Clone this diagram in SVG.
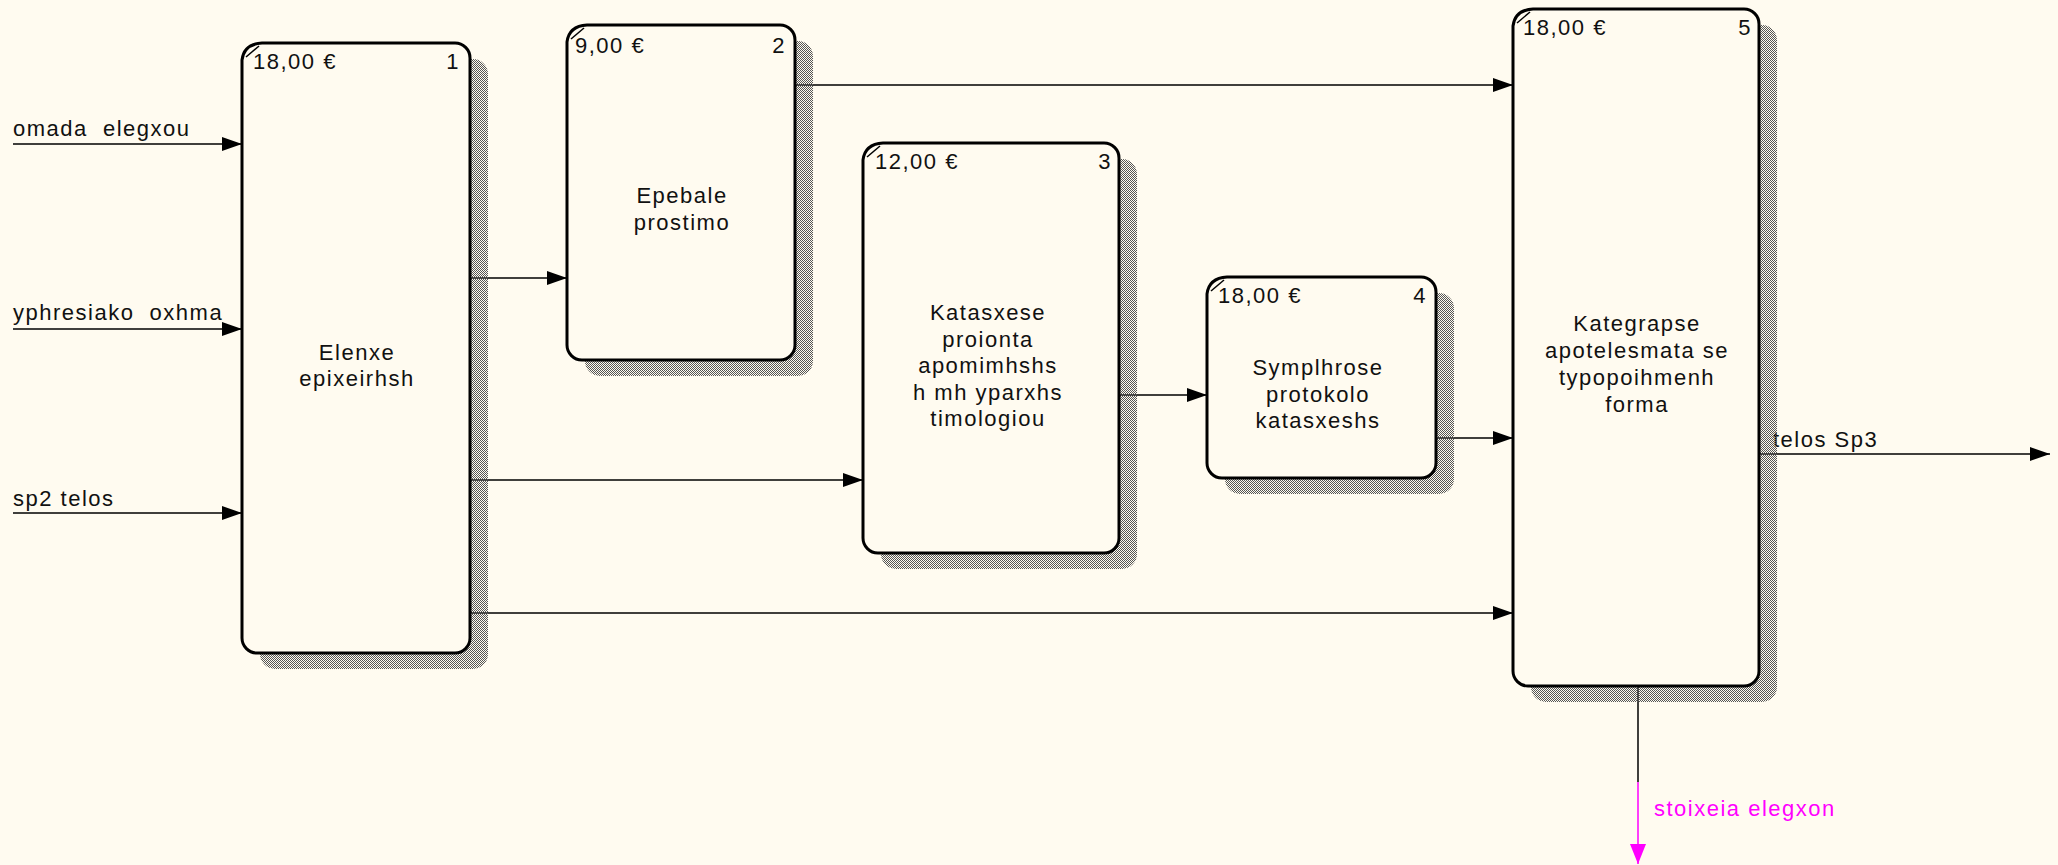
<svg xmlns="http://www.w3.org/2000/svg" width="2058" height="865" viewBox="0 0 2058 865">
<style>
text{font-family:"Liberation Sans",Arial,sans-serif;font-size:22px;letter-spacing:1.5px;fill:#111}
.t{text-anchor:middle}
.n{text-anchor:end}
.box{fill:#FFFBF0;stroke:#000;stroke-width:3}
.sh{fill:url(#hatch)}
.mk{fill:none;stroke:#000;stroke-width:1.5}
.c{fill:none;stroke:#000;stroke-width:1.5}
.m{fill:none;stroke:#FF00FF;stroke-width:1.5}
</style>
<defs>
<pattern id="hatch" width="2" height="2" patternUnits="userSpaceOnUse">
<rect x="0" y="0" width="1" height="1" fill="#555"/>
<rect x="1" y="1" width="1" height="1" fill="#555"/>
</pattern>
<marker id="ar" markerUnits="userSpaceOnUse" markerWidth="20" markerHeight="14" refX="20" refY="7" orient="auto">
<path d="M0,0 L20,7 L0,14 Z" fill="#000"/>
</marker>
<marker id="arm" markerUnits="userSpaceOnUse" markerWidth="20" markerHeight="16" refX="20" refY="8" orient="auto">
<path d="M0,0 L20,8 L0,16 Z" fill="#FF00FF"/>
</marker>
</defs>
<rect width="2058" height="865" fill="#FFFBF0"/>

<g id="connectors">
<line class="c" x1="13" y1="144" x2="242" y2="144" marker-end="url(#ar)"/>
<line class="c" x1="13" y1="329" x2="242" y2="329" marker-end="url(#ar)"/>
<line class="c" x1="13" y1="513" x2="242" y2="513" marker-end="url(#ar)"/>
<line class="c" x1="470" y1="278" x2="567" y2="278" marker-end="url(#ar)"/>
<line class="c" x1="470" y1="480" x2="863" y2="480" marker-end="url(#ar)"/>
<line class="c" x1="470" y1="613" x2="1513" y2="613" marker-end="url(#ar)"/>
<line class="c" x1="795" y1="85" x2="1513" y2="85" marker-end="url(#ar)"/>
<line class="c" x1="1119" y1="395" x2="1207" y2="395" marker-end="url(#ar)"/>
<line class="c" x1="1436" y1="438" x2="1513" y2="438" marker-end="url(#ar)"/>
<line class="c" x1="1759" y1="454" x2="2050" y2="454" marker-end="url(#ar)"/>
<line class="c" x1="1638" y1="686" x2="1638" y2="782"/>
<line class="m" x1="1638" y1="782" x2="1638" y2="864" marker-end="url(#arm)"/>
<text x="13" y="136" xml:space="preserve">omada  elegxou</text>
<text x="13" y="320" xml:space="preserve">yphresiako  oxhma</text>
<text x="13" y="506">sp2 telos</text>
<text x="1773" y="447">telos Sp3</text>
<text x="1654" y="816" style="fill:#FF00FF">stoixeia elegxon</text>
</g>

<g id="node1">
<path class="sh" d="M260,76 L260,654 A15,15 0 0 0 275,669 L473,669 A15,15 0 0 0 488,654 L488,74 A15,15 0 0 0 473,59 L280,59 Z"/>
<path class="box" d="M242,60 L242,638 A15,15 0 0 0 257,653 L455,653 A15,15 0 0 0 470,638 L470,58 A15,15 0 0 0 455,43 L262,43 Q244,44 242,60 Z"/>
<path class="mk" d="M246,57 L259,46"/>
<text x="253" y="69">18,00 €</text>
<text class="n" x="460" y="69">1</text>
<text class="t" x="357" y="360">Elenxe</text>
<text class="t" x="357" y="386">epixeirhsh</text>
</g>

<g id="node2">
<path class="sh" d="M585,58 L585,361 A15,15 0 0 0 600,376 L798,376 A15,15 0 0 0 813,361 L813,56 A15,15 0 0 0 798,41 L605,41 Z"/>
<path class="box" d="M567,42 L567,345 A15,15 0 0 0 582,360 L780,360 A15,15 0 0 0 795,345 L795,40 A15,15 0 0 0 780,25 L587,25 Q569,26 567,42 Z"/>
<path class="mk" d="M571,39 L584,28"/>
<text x="575" y="53">9,00 €</text>
<text class="n" x="786" y="53">2</text>
<text class="t" x="682" y="203">Epebale</text>
<text class="t" x="682" y="230">prostimo</text>
</g>

<g id="node3">
<path class="sh" d="M881,176 L881,554 A15,15 0 0 0 896,569 L1122,569 A15,15 0 0 0 1137,554 L1137,174 A15,15 0 0 0 1122,159 L901,159 Z"/>
<path class="box" d="M863,160 L863,538 A15,15 0 0 0 878,553 L1104,553 A15,15 0 0 0 1119,538 L1119,158 A15,15 0 0 0 1104,143 L883,143 Q865,144 863,160 Z"/>
<path class="mk" d="M867,157 L880,146"/>
<text x="875" y="169">12,00 €</text>
<text class="n" x="1112" y="169">3</text>
<text class="t" x="988" y="320">Katasxese</text>
<text class="t" x="988" y="347">proionta</text>
<text class="t" x="988" y="373">apomimhshs</text>
<text class="t" x="988" y="400">h mh yparxhs</text>
<text class="t" x="988" y="426">timologiou</text>
</g>

<g id="node4">
<path class="sh" d="M1225,310 L1225,479 A15,15 0 0 0 1240,494 L1439,494 A15,15 0 0 0 1454,479 L1454,308 A15,15 0 0 0 1439,293 L1245,293 Z"/>
<path class="box" d="M1207,294 L1207,463 A15,15 0 0 0 1222,478 L1421,478 A15,15 0 0 0 1436,463 L1436,292 A15,15 0 0 0 1421,277 L1227,277 Q1209,278 1207,294 Z"/>
<path class="mk" d="M1211,291 L1224,280"/>
<text x="1218" y="303">18,00 €</text>
<text class="n" x="1427" y="303">4</text>
<text class="t" x="1318" y="375">Symplhrose</text>
<text class="t" x="1318" y="402">protokolo</text>
<text class="t" x="1318" y="428">katasxeshs</text>
</g>

<g id="node5">
<path class="sh" d="M1531,42 L1531,687 A15,15 0 0 0 1546,702 L1762,702 A15,15 0 0 0 1777,687 L1777,40 A15,15 0 0 0 1762,25 L1551,25 Z"/>
<path class="box" d="M1513,26 L1513,671 A15,15 0 0 0 1528,686 L1744,686 A15,15 0 0 0 1759,671 L1759,24 A15,15 0 0 0 1744,9 L1533,9 Q1515,10 1513,26 Z"/>
<path class="mk" d="M1517,23 L1530,12"/>
<text x="1523" y="35">18,00 €</text>
<text class="n" x="1752" y="35">5</text>
<text class="t" x="1637" y="331">Kategrapse</text>
<text class="t" x="1637" y="358">apotelesmata se</text>
<text class="t" x="1637" y="385">typopoihmenh</text>
<text class="t" x="1637" y="412">forma</text>
</g>
</svg>
